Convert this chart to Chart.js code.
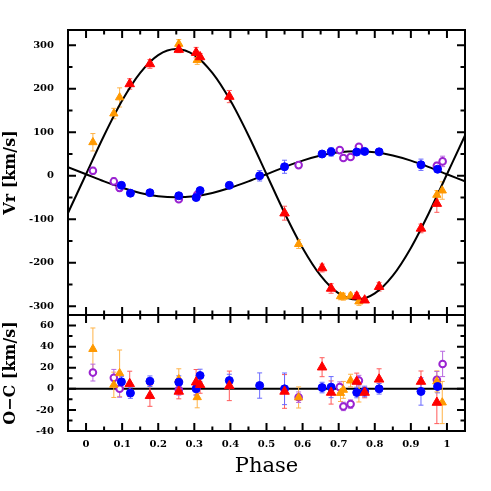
<!DOCTYPE html>
<html><head><meta charset="utf-8">
<script src="https://cdn.jsdelivr.net/npm/chart.js@4.4.0/dist/chart.umd.min.js"></script>
<style>
html,body{margin:0;padding:0;background:#fff;}
#wrap{position:relative;width:491px;height:491px;background:#fff;}
canvas{position:absolute;left:0;top:0;}
</style></head><body>
<div id="wrap"><canvas id="topc" width="491" height="491"></canvas><canvas id="botc" width="491" height="491"></canvas></div>
<script>
// ---- axes / ticks ----
const phaseTicks = [0,0.1,0.2,0.3,0.4,0.5,0.6,0.7,0.8,0.9,1];
const phaseTickLabels = ['0','0.1','0.2','0.3','0.4','0.5','0.6','0.7','0.8','0.9','1'];
const vrTicks = [-300,-200,-100,0,100,200,300];
const ocTicks = [-40,-20,0,20,40,60];

// ---- model curves ----
const modelPhase = [-0.05,0,0.05,0.1,0.15,0.2,0.25,0.3,0.35,0.4,0.45,0.5,0.55,0.6,0.65,0.7,0.75,0.8,0.85,0.9,0.95,1,1.05];
const primaryModel = [-85.5,3.5,92.5,172.8,236.5,277.4,291.5,277.4,236.5,172.8,92.5,3.5,-85.5,-165.8,-229.5,-270.4,-284.5,-270.4,-229.5,-165.8,-85.5,3.5,92.5];
const secondaryModel = [19.9,3.5,-12.9,-27.7,-39.4,-46.9,-49.5,-46.9,-39.4,-27.7,-12.9,3.5,19.9,34.7,46.4,53.9,56.5,53.9,46.4,34.7,19.9,3.5,-12.9];

// ---- red filled triangles ----
const redPhase = [0.121,0.177,0.257,0.305,0.316,0.397,0.550,0.654,0.679,0.750,0.772,0.812,0.928,0.972];
const redVr    = [211,257,290,283,273,182,-86,-212,-259,-277,-286,-255,-121,-64];
const redOC    = [4.7,-6.6,-2.5,6.3,3.8,2.8,-2.5,20.5,-3.5,6.9,-3.5,9,6.9,-13];
const redErr   = [12,10,7,12,8,14,16,9,11,8,5,10,10,20];

// ---- orange filled triangles ----
const orangePhase = [0.019,0.077,0.093,0.257,0.308,0.589,0.705,0.713,0.733,0.756,0.972,0.987];
const orangeVr    = [77,143,180,303,266,-157,-277,-278,-276,-289,-44,-34];
const orangeOC    = [37.7,3.8,14.8,9,-8,-8.2,-4,-1,7.8,-3.5,7,-13];
const orangeErr   = [20,12,22,10,10,10,8,8,6,9,10,20];

// ---- blue filled circles ----
const bluePhase = [0.098,0.123,0.177,0.257,0.305,0.316,0.397,0.481,0.550,0.654,0.679,0.750,0.772,0.812,0.928,0.974];
const blueVr    = [-22,-40,-39,-46,-50,-34,-22,0,20.7,50,55,54.5,56,55,25.3,15];
const blueOC    = [6.6,-4,7.2,6.3,0,12.6,7.8,3.1,0,1.2,1.6,-3.5,-2.5,0,-2.5,2.2];
const blueErr   = [5,5,5,6,6,6,6,12,15,5,10,5,5,5,13,6];

// ---- purple open circles ----
const purplePhase = [0.019,0.077,0.093,0.257,0.308,0.589,0.703,0.713,0.733,0.756,0.972,0.988];
const purpleVr    = [11.5,-13,-28,-54,-44,24.5,59,40.7,43,66.7,23,33];
const purpleOC    = [15.4,10.4,0,-1,3,-8,1.6,-16.7,-14.5,7.8,8.5,23.6];
const purpleErr   = [8,8,8,5,5,5,5,4,4,5,8,12];

const pts = (xs, ys) => xs.map((x, i) => ({x: x, y: ys[i]}));

Chart.defaults.font.family = 'DejaVu Serif';
Chart.defaults.color = '#000';
Chart.defaults.animation = false;

const framePlugin = {
  id: 'frame',
  beforeDatasetsDraw(chart, args, opts) {
    const ctx = chart.ctx, ca = chart.chartArea;
    const xs = chart.scales.x, ys = chart.scales.y;
    ctx.save();
    ctx.beginPath(); ctx.rect(ca.left, ca.top, ca.right - ca.left, ca.bottom - ca.top); ctx.clip();
    if (opts.zeroLine) {
      const y0 = ys.getPixelForValue(0);
      ctx.strokeStyle = '#000'; ctx.lineWidth = 2;
      ctx.beginPath(); ctx.moveTo(ca.left, y0); ctx.lineTo(ca.right, y0); ctx.stroke();
    }
    chart.data.datasets.forEach((ds) => {
      if (!ds.errors) return;
      ctx.strokeStyle = ds.errColor; ctx.lineWidth = 1;
      ds.data.forEach((p, i) => {
        const e = ds.errors[i];
        const x = xs.getPixelForValue(p.x);
        const y1 = ys.getPixelForValue(p.y + e), y2 = ys.getPixelForValue(p.y - e);
        ctx.beginPath();
        ctx.moveTo(x, y1); ctx.lineTo(x, y2);
        ctx.moveTo(x - 2.5, y1); ctx.lineTo(x + 2.5, y1);
        ctx.moveTo(x - 2.5, y2); ctx.lineTo(x + 2.5, y2);
        ctx.stroke();
      });
    });
    ctx.restore();
  },
  afterDraw(chart, args, opts) {
    const ctx = chart.ctx, ca = chart.chartArea;
    const xs = chart.scales.x, ys = chart.scales.y;
    ctx.save();
    ctx.strokeStyle = '#000'; ctx.lineWidth = 2;
    ctx.strokeRect(ca.left, ca.top, ca.right - ca.left, ca.bottom - ca.top);
    const MAJ = 8, MIN = 4.5;
    const xMaj = opts.xMajor, yMaj = opts.yMajor;
    const xStep = xMaj[1] - xMaj[0], yStep = yMaj[1] - yMaj[0];
    const xMin = [], yMin = [];
    for (const t of xMaj) { for (const m of [t - xStep/2, t + xStep/2]) if (m > xs.min + 1e-9 && m < xs.max - 1e-9 && !xMin.some(v => Math.abs(v - m) < 1e-9)) xMin.push(m); }
    for (const t of yMaj) { for (const m of [t - yStep/2, t + yStep/2]) if (m > ys.min + 1e-9 && m < ys.max - 1e-9 && !yMin.some(v => Math.abs(v - m) < 1e-9)) yMin.push(m); }
    ctx.beginPath();
    const xt = (v, L) => { const x = xs.getPixelForValue(v); ctx.moveTo(x, ca.bottom); ctx.lineTo(x, ca.bottom - L); ctx.moveTo(x, ca.top); ctx.lineTo(x, ca.top + L); };
    const yt = (v, L) => { const y = ys.getPixelForValue(v); ctx.moveTo(ca.left, y); ctx.lineTo(ca.left + L, y); ctx.moveTo(ca.right, y); ctx.lineTo(ca.right - L, y); };
    xMaj.forEach(v => xt(v, MAJ)); xMin.forEach(v => xt(v, MIN));
    yMaj.forEach(v => yt(v, MAJ)); yMin.forEach(v => yt(v, MIN));
    ctx.stroke();
    ctx.restore();
  }
};

const RED = '#ff0000', ORANGE = '#ff9900', BLUE = '#0000ff', PURPLE = '#9a22d0';

function markerSets(ySel) {
  return [
    {label: 'red', data: pts(redPhase, ySel.red), errors: redErr, errColor: '#ff5a5a', pointStyle: 'triangle', pointRadius: 5.5, backgroundColor: RED, borderColor: RED, borderWidth: 1, order: 0},
    {label: 'blue', data: pts(bluePhase, ySel.blue), errors: blueErr, errColor: '#6a6aff', pointStyle: 'circle', pointRadius: 4, backgroundColor: BLUE, borderColor: BLUE, borderWidth: 1, order: 1},
    {label: 'orange', data: pts(orangePhase, ySel.orange), errors: orangeErr, errColor: '#ffb347', pointStyle: 'triangle', pointRadius: 4.8, backgroundColor: ORANGE, borderColor: ORANGE, borderWidth: 1, order: 2},
    {label: 'purple', data: pts(purplePhase, ySel.purple), errors: purpleErr, errColor: '#b868e0', pointStyle: 'circle', pointRadius: 3.3, backgroundColor: '#ffffff', borderColor: PURPLE, borderWidth: 2, order: 3}
  ];
}

const yTitleFont = {family: 'DejaVu Serif', size: 16, weight: 'bold'};
const tickFont = {family: 'DejaVu Serif', size: 10, weight: 'bold'};

new Chart(document.getElementById('topc'), {
  type: 'scatter',
  data: {datasets: [
    {label: 'primary', data: pts(modelPhase, primaryModel), showLine: true, pointRadius: 0, borderColor: '#000', borderWidth: 2, cubicInterpolationMode: 'monotone', order: 10, clip: 0},
    {label: 'secondary', data: pts(modelPhase, secondaryModel), showLine: true, pointRadius: 0, borderColor: '#000', borderWidth: 2, cubicInterpolationMode: 'monotone', order: 11, clip: 0},
    ...markerSets({red: redVr, blue: blueVr, orange: orangeVr, purple: purpleVr})
  ]},
  options: {
    responsive: false, animation: false, events: [],
    layout: {padding: {left: 0, top: 30, right: 26, bottom: 176}},
    scales: {
      x: {type: 'linear', min: -0.05, max: 1.05, display: false},
      y: {type: 'linear', min: -320, max: 335,
          afterBuildTicks: (s) => { s.ticks = vrTicks.map(v => ({value: v})); },
          afterFit: (s) => { s.width = 68; },
          grid: {display: false, drawTicks: false, tickLength: 0}, border: {display: false},
          ticks: {font: tickFont, padding: 14, color: '#000', callback: (v, i) => String(vrTicks[i])},
          title: {display: true, text: 'Vr [km/s]', font: yTitleFont, color: '#000', padding: {top: 1, bottom: 0}}}
    },
    plugins: {legend: {display: false}, tooltip: {enabled: false},
      frame: {xMajor: phaseTicks, yMajor: vrTicks, zeroLine: false}}
  },
  plugins: [framePlugin]
});

new Chart(document.getElementById('botc'), {
  type: 'scatter',
  data: {datasets: markerSets({red: redOC, blue: blueOC, orange: orangeOC, purple: purpleOC})},
  options: {
    responsive: false, animation: false, events: [],
    layout: {padding: {left: 0, top: 315, right: 26, bottom: 0}},
    scales: {
      x: {type: 'linear', min: -0.05, max: 1.05,
          afterBuildTicks: (s) => { s.ticks = phaseTicks.map(v => ({value: v})); },
          afterFit: (s) => { s.height = 60; },
          grid: {display: false, drawTicks: false, tickLength: 0}, border: {display: false},
          ticks: {font: tickFont, padding: 7, color: '#000', autoSkip: false, maxRotation: 0, callback: (v, i) => phaseTickLabels[i]},
          title: {display: true, text: 'Phase', font: {family: 'DejaVu Serif', size: 21, weight: 'normal'}, color: '#000', padding: {top: 0, bottom: 12}}},
      y: {type: 'linear', min: -40, max: 70,
          afterBuildTicks: (s) => { s.ticks = ocTicks.map(v => ({value: v})); },
          afterFit: (s) => { s.width = 68; },
          grid: {display: false, drawTicks: false, tickLength: 0}, border: {display: false},
          ticks: {font: tickFont, padding: 14, color: '#000', callback: (v, i) => String(ocTicks[i])},
          title: {display: true, text: 'O−C [km/s]', font: yTitleFont, color: '#000', padding: {top: 1, bottom: 0}}}
    },
    plugins: {legend: {display: false}, tooltip: {enabled: false},
      frame: {xMajor: phaseTicks, yMajor: ocTicks, zeroLine: true}}
  },
  plugins: [framePlugin]
});
</script>
</body></html>
